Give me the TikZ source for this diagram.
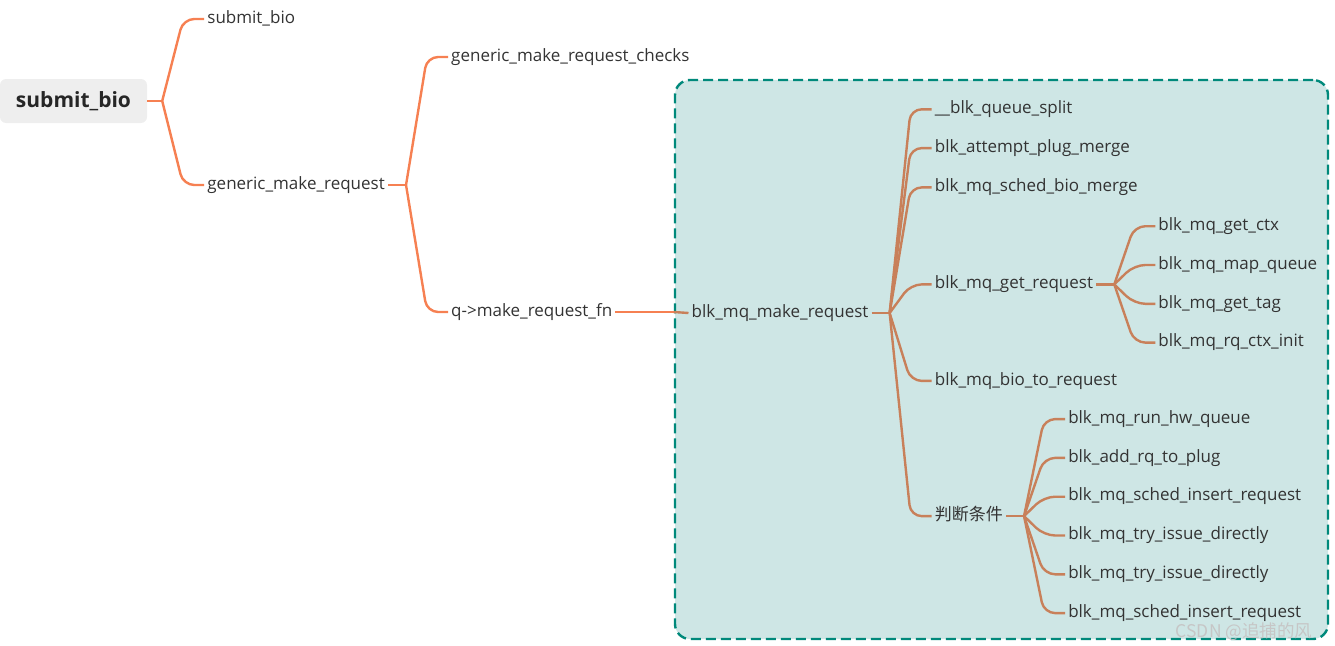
\documentclass[tikz,border=0pt]{standalone}
\usepackage{fontspec}
\setmainfont{Open Sans}
\newfontfamily\cjk{Noto Sans CJK SC}
\usepackage{tikz}
\usetikzlibrary{positioning, calc, fit}
\definecolor{mmorange}{RGB}{246,128,82}
\definecolor{mmbrown}{RGB}{200,128,90}
\definecolor{mmteal}{RGB}{0,137,123}
\definecolor{mmfill}{RGB}{206,230,229}
\definecolor{mmroot}{RGB}{238,238,238}
\definecolor{mmtext}{RGB}{51,51,51}
\tikzset{
    topic/.style={
        rectangle,
        fill=mmroot,
        rounded corners=6pt,
        minimum width=147pt,
        minimum height=44pt,
        text=black!85,
        font=\fontsize{21}{24}\selectfont\bfseries
    },
    leaf/.style={
        rectangle,
        draw=none,
        inner xsep=3pt,
        inner ysep=2pt,
        text height=12.5pt,
        text depth=4pt,
        text=mmtext,
        anchor=west,
        font=\fontsize{17}{20}\selectfont
    },
    branch/.style={
        draw=mmorange,
        line width=2.4pt,
        rounded corners=11pt
    },
    subbranch/.style={
        branch,
        draw=mmbrown
    },
    frame/.style={
        rectangle,
        draw=mmteal,
        fill=mmfill,
        line width=2.4pt,
        dash pattern=on 10pt off 5pt,
        rounded corners=15pt
    },
}

\begin{document}
\begin{tikzpicture}[x=1pt, y=-1pt, node distance=60pt]
\useasboundingbox (0,0) rectangle (1335,645);

% Frame round the blk_mq part
\coordinate (fr-nw) at (675,80);
\coordinate (fr-se) at (1328,639);
\node[frame, fit=(fr-nw)(fr-se), inner sep=0pt] (frame) {};

% Root
\node[topic] (root) at (73.5,101) {submit\_bio};

% Level 1
\node[leaf, right=57pt of root, yshift=82pt] (sb) {submit\_bio};
\node[leaf, right=57pt of root, yshift=-84pt] (gmr) {generic\_make\_request};

% Level 2
\node[leaf, right=of gmr, yshift=128pt] (gmrc) {generic\_make\_request\_checks};
\node[leaf, right=of gmr, yshift=-127pt] (qfn) {q->make\_request\_fn};

% blk_mq_make_request
\node[leaf, right=73pt of qfn, yshift=-1pt] (mkreq) {blk\_mq\_make\_request};

\node[leaf, right=of mkreq, yshift=203.7pt] (split) {\_\_blk\_queue\_split};
\node[leaf, right=of mkreq, yshift=164.9pt] (plug) {blk\_attempt\_plug\_merge};
\node[leaf, right=of mkreq, yshift=125.6pt] (smerge) {blk\_mq\_sched\_bio\_merge};
\node[leaf, right=of mkreq, yshift=28.6pt] (getreq) {blk\_mq\_get\_request};
\node[leaf, right=of mkreq, yshift=-67.9pt] (torq) {blk\_mq\_bio\_to\_request};
\node[leaf, right=of mkreq, yshift=-203.1pt] (cond) {\cjk 判断条件};

% blk_mq_get_request
\node[leaf, right=59pt of getreq, yshift=58.2pt] (ctx) {blk\_mq\_get\_ctx};
\node[leaf, right=59pt of getreq, yshift=19.4pt] (mapq) {blk\_mq\_map\_queue};
\node[leaf, right=59pt of getreq, yshift=-19.4pt] (tag) {blk\_mq\_get\_tag};
\node[leaf, right=59pt of getreq, yshift=-58.2pt] (rqinit) {blk\_mq\_rq\_ctx\_init};

% condition
\node[leaf, right=59pt of cond, yshift=97pt] (runhw) {blk\_mq\_run\_hw\_queue};
\node[leaf, right=59pt of cond, yshift=58.2pt] (toplug) {blk\_add\_rq\_to\_plug};
\node[leaf, right=59pt of cond, yshift=19.4pt] (insa) {blk\_mq\_sched\_insert\_request};
\node[leaf, right=59pt of cond, yshift=-19.4pt] (trya) {blk\_mq\_try\_issue\_directly};
\node[leaf, right=59pt of cond, yshift=-58.2pt] (tryb) {blk\_mq\_try\_issue\_directly};
\node[leaf, right=59pt of cond, yshift=-97pt] (insb) {blk\_mq\_sched\_insert\_request};

% Branch points
\coordinate (root-b) at ([xshift=15pt]root.east);
\coordinate (gmr-b) at ([xshift=18pt]gmr.east);
\coordinate (mkreq-b) at ([xshift=18pt]mkreq.east);
\coordinate (getreq-b) at ([xshift=18pt]getreq.east);
\coordinate (cond-b) at ([xshift=18pt]cond.east);

% Connectors
\draw[branch] (root.east) -- (root-b);
\foreach \c in {sb, gmr}
    \draw[branch] (root-b) -- ([xshift=-21pt]\c.west) -- (\c.west);

\draw[branch] (gmr.east) -- (gmr-b);
\foreach \c in {gmrc, qfn}
    \draw[branch] (gmr-b) -- ([xshift=-21pt]\c.west) -- (\c.west);

\draw[branch] (qfn.east) -- (frame.west |- qfn.east);
\draw[subbranch] (frame.west |- qfn.east) -- (mkreq.west);

\draw[subbranch] (mkreq.east) -- (mkreq-b);
\foreach \c in {split, plug, smerge, getreq, torq, cond}
    \draw[subbranch] (mkreq-b) -- ([xshift=-21pt]\c.west) -- (\c.west);

\draw[subbranch] (getreq.east) -- (getreq-b);
\foreach \c in {ctx, mapq, tag, rqinit}
    \draw[subbranch] (getreq-b) -- ([xshift=-21pt]\c.west) -- (\c.west);

\draw[subbranch] (cond.east) -- (cond-b);
\foreach \c in {runhw, toplug, insa, trya, tryb, insb}
    \draw[subbranch] (cond-b) -- ([xshift=-21pt]\c.west) -- (\c.west);

% Watermark
\node[text=gray!45, inner sep=0pt, font=\cjk\fontsize{17.5}{19}\selectfont] (wm) at (1244,632) {CSDN @追捕的风};

\end{tikzpicture}
\end{document}
